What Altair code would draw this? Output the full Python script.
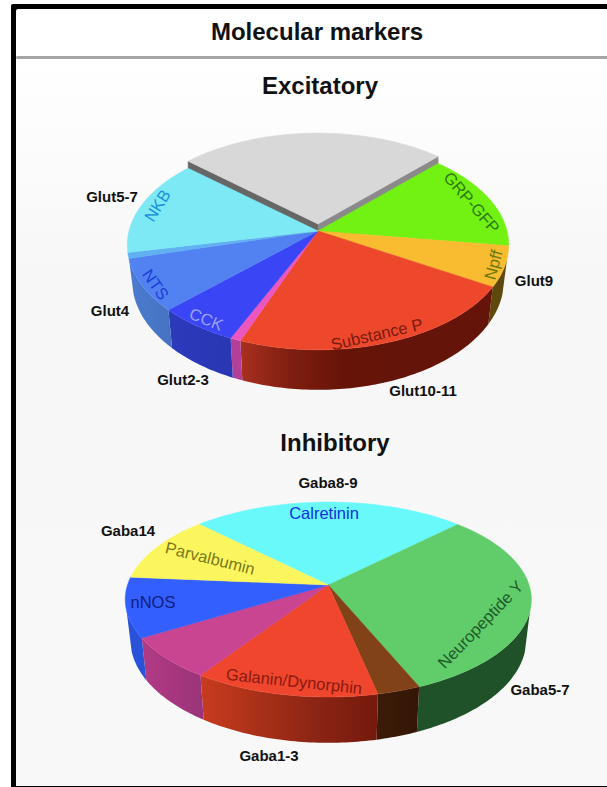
import math
import altair as alt

# Slice shares in percent, listed clockwise from the upper-right edge of each pie.
EXC_NAMES = ["Unlabelled", "GRP-GFP", "Npff", "Substance P", "Minor", "CCK", "NTS", "Sliver", "NKB"]
EXC_VALUES = [25.7, 15.0, 6.2, 22.4, 0.8, 6.1, 8.1, 0.9, 14.8]
INH_NAMES = ["Calretinin", "Neuropeptide Y", "Minor", "Galanin/Dynorphin", "Other", "nNOS", "Parvalbumin"]
INH_VALUES = [25.2, 31.0, 3.0, 12.8, 7.0, 9.9, 11.1]

EXC_TOP = ["#D8D8D8", "#72F212", "#F9BB30", "#EE482C", "#EC56C0", "#3A46F6", "#5282F2", "#60B0F2", "#7DE9F5"]
EXC_WALL = [
    ["#8A8A8A"], ["#3F8A0A"], ["#5E480C"],
    ["#A83020", "#7E1E10", "#681408", "#641408", "#641408", "#641408"],
    ["#B24098"], ["#2C3ABC", "#2A36B2"], ["#4A7CD0", "#4672C0"], ["#4A78C8"], ["#4A78C8"],
]
INH_TOP = ["#6AF9FB", "#60CC6A", "#824218", "#EF462D", "#C94591", "#325FFE", "#FCF65E"]
INH_WALL = [
    ["#3A9A9C"], ["#20522A"], ["#3C1C08", "#341606"],
    ["#C83C20", "#A83018", "#8A2414", "#74190C"],
    ["#B23A86", "#9A3478"], ["#2A52D8"], ["#9A9A30"],
]

# Pie geometry: apex, plan radii, perspective strength, wall depth, start angle.
EXC_PIE = dict(cx=318, cy=231, rx=189, ry=103, k=0.133, depth=34.7, start=138.4)
INH_PIE = dict(cx=328.3, cy=585, rx=200.8, ry=95.3, k=0.149, depth=39.0, start=135.3)
LIFT = 7  # upward offset of the pulled-out grey slice
FLOOR_SCALE = 0.975  # the lower rim sits further from the eye
WALL_FROM = -0.25  # walls show where the sine of the rim angle is below this


def rim(pie, deg, drop=0.0, lift=0.0, scale=1.0):
    t = math.radians(deg)
    w = 1 + pie["k"] * math.sin(t)
    return [
        pie["cx"] + scale * pie["rx"] * math.cos(t) / w,
        pie["cy"] - pie["ry"] * math.sin(t) / w + drop / w - lift,
    ]


def poly(points, fill="#000000"):
    ring = points + [points[0]]
    return {
        "type": "Feature",
        "properties": {"fill": fill},
        "geometry": {"type": "Polygon", "coordinates": [ring]},
    }


def spans(pie, values):
    out, a = [], pie["start"]
    for v in values:
        b = a - v * 3.6
        out.append((a, b))
        a = b
    return out


def arc(a, b, step=1.0):
    n = max(2, int(abs(a - b) / step) + 1)
    return [a + (b - a) * i / n for i in range(n + 1)]


PROJECTION = dict(type="identity", scale=1, translate=[0, 0])


def shape_layer(features, fill=None):
    # Solid shapes take their colour from the feature; walls pass a gradient or a colour.
    data = alt.Data(values=features)
    if fill is None:
        return (
            alt.Chart(data)
            .mark_geoshape(strokeWidth=0.5)
            .encode(
                fill=alt.Fill("properties.fill:N", scale=None),
                stroke=alt.Stroke("properties.fill:N", scale=None),
            )
            .project(**PROJECTION)
        )
    return alt.Chart(data).mark_geoshape(fill=fill, strokeWidth=0).project(**PROJECTION)


def wall_fill(stops):
    if len(stops) == 1:
        return stops[0]
    return alt.Gradient(
        gradient="linear",
        x1=0, x2=1, y1=0, y2=0,
        stops=[alt.GradientStop(offset=i / (len(stops) - 1), color=c) for i, c in enumerate(stops)],
    )


def walls(pie, values, colors):
    layers = []
    for (a, b), stops in zip(spans(pie, values), colors):
        angs = [d for d in arc(a, b) if math.sin(math.radians(d)) < WALL_FROM]
        if len(angs) < 2:
            continue
        upper = [rim(pie, d) for d in angs]
        lower = [rim(pie, d, pie["depth"], 0, FLOOR_SCALE) for d in reversed(angs)]
        layers.append(shape_layer([poly(upper + lower)], wall_fill(stops)))
    return layers


def tops(pie, values, colors, skip=()):
    feats = []
    for i, ((a, b), c) in enumerate(zip(spans(pie, values), colors)):
        if i in skip:
            continue
        feats.append(poly([[pie["cx"], pie["cy"]]] + [rim(pie, d) for d in arc(a, b)], c))
    return feats


def raised_slice(pie, span, color):
    # The pulled-out slice: two radial faces below its raised top.
    a, b = span
    apex = [pie["cx"], pie["cy"] - LIFT]
    apex_low = [pie["cx"], pie["cy"] - LIFT + pie["depth"]]
    left = poly([apex, rim(pie, a, 0, LIFT), rim(pie, a, pie["depth"], LIFT), apex_low], "#666666")
    right = poly([apex, rim(pie, b, 0, LIFT), rim(pie, b, pie["depth"], LIFT), apex_low], "#8A8A8A")
    top = poly([apex] + [rim(pie, d, 0, LIFT) for d in arc(a, b)], color)
    return [left, right, top]


# Frame pieces, outermost first.
frame = [
    dict(x=11, x2=640, y=4, y2=800, fill="#000000"),
    dict(x=16, x2=640, y=9, y2=786, fill="#FFFFFF"),
    dict(x=16, x2=640, y=56, y2=59, fill="#A6A6A6"),
]
frame_layer = (
    alt.Chart(alt.Data(values=frame))
    .mark_rect(cornerRadius=2)
    .encode(
        x=alt.X("x:Q", scale=None, axis=None),
        x2="x2:Q",
        y=alt.Y("y:Q", scale=None, axis=None),
        y2="y2:Q",
        fill=alt.Fill("fill:N", scale=None),
    )
)
backdrop = alt.Chart(alt.Data(values=[{"k": 0}])).mark_rect(
    fill=alt.Gradient(
        gradient="linear",
        x1=0, x2=0, y1=0, y2=1,
        stops=[
            alt.GradientStop(offset=0, color="#FFFFFF"),
            alt.GradientStop(offset=0.3, color="#F7F7F7"),
            alt.GradientStop(offset=1, color="#F8F8F8"),
        ],
    )
).encode(x=alt.value(16), x2=alt.value(607), y=alt.value(59), y2=alt.value(786))

headings = [
    dict(t="Molecular markers", x=317, y=33),
    dict(t="Excitatory", x=320, y=87),
    dict(t="Inhibitory", x=335, y=444),
]
outer = [
    dict(t="Glut5-7", x=112, y=197),
    dict(t="Glut4", x=110, y=311),
    dict(t="Glut2-3", x=183, y=380),
    dict(t="Glut10-11", x=423, y=391),
    dict(t="Glut9", x=534, y=281),
    dict(t="Gaba8-9", x=328, y=483),
    dict(t="Gaba14", x=128, y=531),
    dict(t="Gaba5-7", x=540, y=690),
    dict(t="Gaba1-3", x=269, y=756),
]
inner = [
    dict(t="NKB", x=158, y=206, a=302, c="#1C90D8"),
    dict(t="GRP-GFP", x=471, y=203, a=49, c="#2F7A10"),
    dict(t="Npff", x=494, y=265, a=285, c="#6A7A10"),
    dict(t="Substance P", x=377, y=335, a=347, c="#7A1A10"),
    dict(t="CCK", x=206, y=320, a=22, c="#9AA0F8"),
    dict(t="NTS", x=155, y=285, a=55, c="#1A40D8"),
    dict(t="Calretinin", x=324, y=514, a=0, c="#1030E0"),
    dict(t="Parvalbumin", x=210, y=559, a=14, c="#7A7A20"),
    dict(t="nNOS", x=153, y=603, a=0, c="#102080"),
    dict(t="Galanin/Dynorphin", x=294, y=682, a=6, c="#8A1A10"),
    dict(t="Neuropeptide Y", x=481, y=625, a=314, c="#1F5A28"),
]

FONT = "Liberation Sans"


def text_layer(rows, size, weight, default_color="#111111"):
    mark = alt.Chart(alt.Data(values=rows)).mark_text(
        font=FONT, fontSize=size, fontWeight=weight, align="center", baseline="middle"
    )
    enc = dict(
        x=alt.X("x:Q", scale=None, axis=None),
        y=alt.Y("y:Q", scale=None, axis=None),
        text="t:N",
    )
    if "c" in rows[0]:
        enc["color"] = alt.Color("c:N", scale=None)
        enc["angle"] = alt.Angle("a:Q", scale=None)
    else:
        enc["color"] = alt.value(default_color)
    return mark.encode(**enc)


chart = alt.layer(
    frame_layer,
    backdrop,
    shape_layer(raised_slice(EXC_PIE, spans(EXC_PIE, EXC_VALUES)[0], EXC_TOP[0])),
    *walls(EXC_PIE, EXC_VALUES, EXC_WALL),
    shape_layer(tops(EXC_PIE, EXC_VALUES, EXC_TOP, skip=(0,))),
    *walls(INH_PIE, INH_VALUES, INH_WALL),
    shape_layer(tops(INH_PIE, INH_VALUES, INH_TOP)),
    text_layer(headings, 24, "bold"),
    text_layer(outer, 15, "bold"),
    text_layer(inner, 16.5, "normal"),
).properties(
    width=607,
    height=787,
    padding=0,
    autosize=alt.AutoSizeParams(type="none"),
    background="#FFFFFF",
).configure_view(stroke=None)

chart.save("out.html", embed_options={"renderer": "svg", "actions": False})
